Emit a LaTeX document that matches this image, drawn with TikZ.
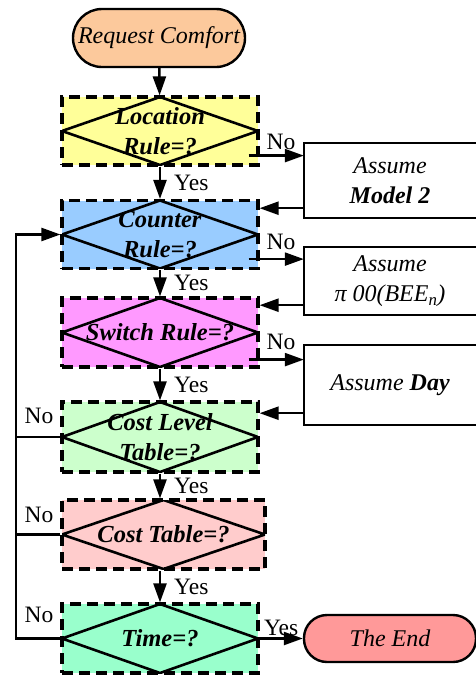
\documentclass[tikz,border=0pt]{standalone}
\usepackage{fontspec}
\setmainfont{Liberation Serif}
\usetikzlibrary{arrows.meta,calc}
\definecolor{startc}{HTML}{FCC99C}
\definecolor{locc}{HTML}{FFFF99}
\definecolor{cntc}{HTML}{99CCFF}
\definecolor{swc}{HTML}{FF99FF}
\definecolor{clc}{HTML}{CCFFCC}
\definecolor{ctc}{HTML}{FFCCCC}
\definecolor{tmc}{HTML}{99FFCC}
\definecolor{endc}{HTML}{FF9999}
\begin{document}
\begin{tikzpicture}[x=1pt,y=-1pt,
  txt/.style={font=\fontsize{23.5}{30}\selectfont},
  term/.style={draw, line width=2.4pt, minimum width=172pt, font=\fontsize{24}{30}\selectfont\itshape, inner sep=0pt},
  decision/.style={draw, line width=3.2pt, dash pattern=on 11pt off 6pt, minimum width=196pt, minimum height=68pt,
     align=center, inner sep=0pt, font=\fontsize{24.5}{30}\selectfont\bfseries\itshape,
     path picture={\draw[line width=2.6pt, solid] (path picture bounding box.north) -- (path picture bounding box.east) -- (path picture bounding box.south) -- (path picture bounding box.west) -- cycle;}},
  abox/.style={minimum width=172pt, align=center, inner sep=0pt, font=\fontsize{24}{30}\selectfont\itshape},
  bline/.style={line width=2.4pt},
  arr/.style={line width=2.4pt, -{Triangle[length=19pt,width=13pt]}},
  ln/.style={line width=2.4pt},
  lab/.style={txt, inner sep=0pt}
]
\path[use as bounding box, clip] (0,0) rectangle (476,675);

\node[term, fill=startc, minimum height=58pt, rounded corners=29pt] (start) at (159,38) {Request Comfort};
\node[decision, fill=locc] (loc) at (160,131) {Location\\Rule=?};
\node[decision, fill=cntc] (cnt) at (160,234.5) {Counter\\Rule=?};
\node[decision, fill=swc, minimum height=69pt] (sw) at (160,332.5) {Switch Rule=?};
\node[decision, fill=clc, minimum height=70pt] (cl) at (160,437) {Cost Level\\Table=?};
\node[decision, fill=ctc, minimum width=203pt, minimum height=69pt] (ct) at (163.5,534.5) {Cost Table=?};
\node[decision, fill=tmc, minimum height=69pt] (tm) at (160,638.5) {Time=?};
\node[term, fill=endc, minimum height=47pt, rounded corners=23pt] (end) at (390,638.5) {The End};

\node[abox, minimum height=75pt] (m2) at (390,180.5) {Assume\\\textbf{Model 2}};
\node[abox, minimum height=68pt] (pi) at (390,281) {Assume\\π 00(BEE\textsubscript{\itshape n})};
\node[abox, minimum height=80pt] (day) at (390,385) {Assume \textbf{Day}};
\foreach \b in {m2,pi,day}{
  \draw[bline] ([xshift=20pt]\b.north east) -- (\b.north west) -- (\b.south west) -- ([xshift=20pt]\b.south east);
}

% main flow
\draw[arr] (start) -- (loc);
\draw[arr] (loc) -- (cnt) node[lab, midway, right=13pt] {Yes};
\draw[arr] (cnt) -- (sw) node[lab, midway, right=13pt] {Yes};
\draw[arr] (sw) -- (cl) node[lab, midway, right=13pt] {Yes};
\draw[arr] (cl.south) -- (cl.south |- ct.north) node[lab, midway, right=13pt] {Yes};
\draw[arr] (tm.north |- ct.south) -- (tm.north) node[lab, midway, right=13pt] {Yes};
\draw[arr] (tm) -- (end) node[lab, midway, above=2pt] {Yes};

% No branches to the right
\draw[arr] ([xshift=-11pt,yshift=11pt]loc.south east) coordinate (a1) -- (a1 -| m2.west);
\node[lab] (no1) at (281,142) {No};
\draw[arr] ([xshift=-11pt,yshift=11pt]cnt.south east) coordinate (a2) -- (a2 -| pi.west);
\node[lab] (no2) at (281,242) {No};
\draw[arr] ([xshift=-11pt,yshift=9pt]sw.south east) coordinate (a3) -- (a3 -| day.west);
\node[lab] (no3) at (281,342) {No};

% returns
\draw[arr] ([yshift=10pt]m2.south west) coordinate (r1) -- (r1 -| cnt.east);
\draw[arr] ([yshift=10pt]pi.south west) coordinate (r2) -- (r2 -| sw.east);
\draw[arr] ([yshift=12pt]day.south west) coordinate (r3) -- (r3 -| cl.east);

% left loop
\coordinate (lx) at (16,0);
\draw[arr] (tm.west) -- (tm.west -| lx) |- (cnt.west);
\draw[ln] (cl.west) -- (cl.west -| lx);
\draw[ln] (ct.west) -- (ct.west -| lx);
\node[lab] (no4) at (39,416) {No};
\node[lab] (no5) at (39,515) {No};
\node[lab] (no6) at (39,615) {No};
\end{tikzpicture}
\end{document}
